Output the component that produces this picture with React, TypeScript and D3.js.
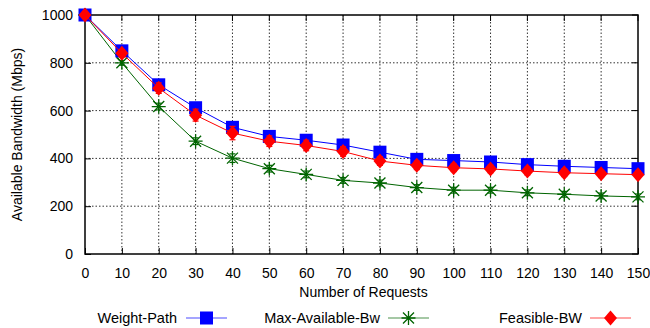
import React, { useEffect, useRef } from 'react';
import * as d3 from 'd3';

const requests = [0, 10, 20, 30, 40, 50, 60, 70, 80, 90, 100, 110, 120, 130, 140, 150];
const weightPath = [1000, 850, 708, 612, 530, 492, 476, 456, 426, 396, 391, 385, 374, 367, 362, 357];
const weightPathErr = [0, 8, 10, 10, 10, 8, 8, 8, 8, 8, 8, 8, 8, 8, 8, 8];
const maxAvail = [1000, 800, 617, 472, 401, 357, 333, 308, 297, 278, 267, 267, 256, 250, 243, 239];
const maxAvailErr = [0, 10, 14, 14, 18, 14, 14, 12, 12, 12, 12, 12, 12, 12, 12, 12];
const feasible = [1000, 840, 694, 581, 506, 472, 454, 429, 389, 371, 361, 356, 347, 340, 336, 332];
const feasibleErr = [0, 15, 22, 25, 28, 22, 22, 20, 18, 18, 16, 16, 16, 16, 16, 16];
const xTicks = [0, 10, 20, 30, 40, 50, 60, 70, 80, 90, 100, 110, 120, 130, 140, 150];
const yTicks = [0, 200, 400, 600, 800, 1000];

const series = [
  { name: 'Weight-Path', values: weightPath, err: weightPathErr, color: '#0000ff', marker: 'square' },
  { name: 'Max-Available-Bw', values: maxAvail, err: maxAvailErr, color: '#006400', marker: 'star' },
  { name: 'Feasible-BW', values: feasible, err: feasibleErr, color: '#ff0000', marker: 'diamond' },
];
// draw order: green, blue, red
const drawOrder = [1, 0, 2];

function drawMarker(g: any, kind: string, x: number, y: number, color: string) {
  if (kind === 'square') {
    g.append('rect').attr('x', x - 6.5).attr('y', y - 6.5).attr('width', 13).attr('height', 13).attr('fill', color);
  } else if (kind === 'diamond') {
    g.append('path')
      .attr('d', `M${x},${y - 7.5}L${x + 6.5},${y}L${x},${y + 7.5}L${x - 6.5},${y}Z`)
      .attr('fill', color);
  } else {
    const r = 7;
    const d = 5.5;
    g.append('path')
      .attr('d', `M${x - r},${y}L${x + r},${y}M${x},${y - r}L${x},${y + r}M${x - d},${y - d}L${x + d},${y + d}M${x - d},${y + d}L${x + d},${y - d}`)
      .attr('stroke', color).attr('stroke-width', 1.3).attr('fill', 'none');
  }
}

export default function App() {
  const ref = useRef<SVGSVGElement>(null);

  useEffect(() => {
    const svg = d3.select(ref.current);
    svg.selectAll('*').remove();
    const left = 85, right = 638, top = 15, bottom = 254;
    const font = 'Liberation Sans, Arial, Helvetica, sans-serif';

    const x = d3.scaleLinear().domain([0, 150]).range([left, right]);
    const y = d3.scaleLinear().domain([0, 1000]).range([bottom, top]);

    // grid
    const grid = svg.append('g');
    xTicks.slice(1, -1).forEach(t => {
      grid.append('line').attr('x1', x(t)).attr('x2', x(t)).attr('y1', top).attr('y2', bottom)
        .attr('stroke', '#333').attr('stroke-width', 1).attr('stroke-dasharray', '1.5,2');
    });
    yTicks.slice(1, -1).forEach(t => {
      grid.append('line').attr('x1', left).attr('x2', right).attr('y1', y(t)).attr('y2', y(t))
        .attr('stroke', '#333').attr('stroke-width', 1).attr('stroke-dasharray', '1.5,2');
    });

    // axes
    const xAxis = svg.append('g').attr('transform', `translate(0,${bottom})`)
      .call(d3.axisBottom(x).tickValues(xTicks).tickFormat(d3.format('d')).tickSize(-6).tickPadding(14));
    const yAxis = svg.append('g').attr('transform', `translate(${left},0)`)
      .call(d3.axisLeft(y).tickValues(yTicks).tickFormat(d3.format('d')).tickSize(-6).tickPadding(12));
    [xAxis, yAxis].forEach(a => {
      a.select('.domain').remove();
      a.selectAll('line').attr('stroke', '#000');
      a.selectAll('text').attr('font-family', font).attr('font-size', 14).attr('fill', '#000');
    });
    // top and right ticks
    xTicks.forEach(t => {
      svg.append('line').attr('x1', x(t)).attr('x2', x(t)).attr('y1', top).attr('y2', top + 6).attr('stroke', '#000');
    });
    yTicks.forEach(t => {
      svg.append('line').attr('x1', right).attr('x2', right - 6).attr('y1', y(t)).attr('y2', y(t)).attr('stroke', '#000');
    });
    svg.append('rect').attr('x', left).attr('y', top).attr('width', right - left).attr('height', bottom - top)
      .attr('fill', 'none').attr('stroke', '#000').attr('stroke-width', 1.5);

    // series
    const line = d3.line<number>().x((_, i) => x(requests[i])).y(d => y(d));
    drawOrder.forEach(si => {
      const s = series[si];
      const g = svg.append('g');
      g.append('path').datum(s.values).attr('d', line).attr('fill', 'none')
        .attr('stroke', s.color).attr('stroke-width', 1);
      s.values.forEach((v, i) => {
        const cx = x(requests[i]);
        const e = s.err[i];
        if (e > 0) {
          const eb = g.append('g').attr('stroke', s.color).attr('stroke-width', 1.2);
          eb.append('line').attr('x1', cx).attr('x2', cx).attr('y1', y(v - e)).attr('y2', y(v + e));
          eb.append('line').attr('x1', cx - 3).attr('x2', cx + 3).attr('y1', y(v - e)).attr('y2', y(v - e));
          eb.append('line').attr('x1', cx - 3).attr('x2', cx + 3).attr('y1', y(v + e)).attr('y2', y(v + e));
        }
        drawMarker(g, s.marker, cx, y(v), s.color);
      });
    });

    // axis titles
    svg.append('text').attr('x', (left + right) / 2 + 2).attr('y', 297).attr('text-anchor', 'middle')
      .attr('font-family', font).attr('font-size', 14).text('Number of Requests');
    svg.append('text').attr('transform', `translate(22,${(top + bottom) / 2}) rotate(-90)`)
      .attr('text-anchor', 'middle').attr('font-family', font).attr('font-size', 14)
      .text('Available Bandwidth (Mbps)');

    // legend
    const legendPos = [
      { tx: 177, lx: 186 },
      { tx: 380, lx: 388 },
      { tx: 582, lx: 590 },
    ];
    series.forEach((s, i) => {
      const p = legendPos[i];
      const ly = 318;
      svg.append('text').attr('x', p.tx).attr('y', ly + 5).attr('text-anchor', 'end')
        .attr('font-family', font).attr('font-size', 14.5).text(s.name);
      svg.append('line').attr('x1', p.lx).attr('x2', p.lx + 41).attr('y1', ly).attr('y2', ly)
        .attr('stroke', s.color).attr('stroke-opacity', 0.7).attr('stroke-width', 1.2);
      drawMarker(svg, s.marker, p.lx + 20.5, ly, s.color);
    });
  }, []);

  return (
    <div>
      <svg ref={ref} width={650} height={328} style={{ position: 'absolute', left: 0, top: 0, background: '#fff' }} />
    </div>
  );
}
